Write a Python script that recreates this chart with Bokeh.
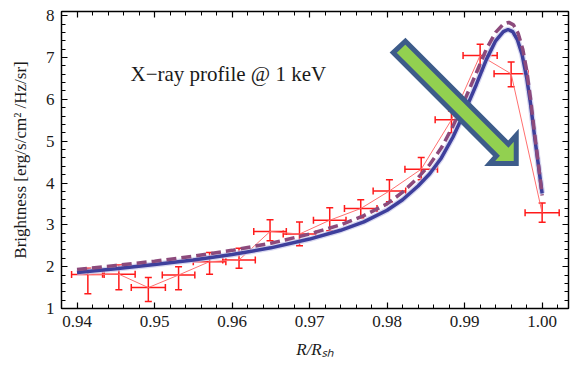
from bokeh.plotting import figure
from bokeh.models import (Range1d, SingleIntervalTicker, LinearAxis, ColumnDataSource,
                          Whisker, TeeHead, Label, NumeralTickFormatter, CustomJSTickFormatter)
from bokeh.embed import file_html
from bokeh.resources import INLINE

# ---- observed X-ray profile (points with error bars) ----
r_obs = [0.9414, 0.9454, 0.9492, 0.9531, 0.9571, 0.9609, 0.9649, 0.9687,
         0.9726, 0.9766, 0.9803, 0.9844, 0.9883, 0.9920, 0.9960, 1.0000]
b_obs = [1.81, 1.82, 1.50, 1.80, 2.12, 2.16, 2.84, 2.78,
         3.11, 3.39, 3.81, 4.33, 5.51, 7.05, 6.61, 3.29]
b_low = [1.35, 1.45, 1.17, 1.45, 1.82, 1.96, 2.62, 2.50,
         2.86, 3.17, 3.55, 4.08, 5.20, 6.68, 6.30, 3.06]
b_high = [1.96, 2.04, 1.74, 2.00, 2.34, 2.44, 3.12, 3.07,
          3.41, 3.60, 4.08, 4.61, 5.72, 7.32, 6.89, 3.52]
r_err = [0.0021, 0.0021, 0.0022, 0.0021, 0.0021, 0.0021, 0.0021, 0.0021,
         0.0021, 0.0021, 0.0021, 0.0021, 0.0021, 0.0022, 0.0022, 0.0022]

# ---- model curves ----
r_model = [0.9400, 0.9450, 0.9500, 0.9550, 0.9600, 0.9650, 0.9700, 0.9740, 0.9770,
           0.9800, 0.9820, 0.9840, 0.9855, 0.9870, 0.9885, 0.9900, 0.9915, 0.9928,
           0.9940, 0.9950, 0.9956, 0.9962, 0.9968, 0.9974, 0.9980, 0.9985, 0.9990,
           0.9995, 1.0000]
b_solid = [1.86, 1.95, 2.05, 2.16, 2.29, 2.45, 2.66, 2.87, 3.07,
           3.35, 3.60, 3.93, 4.22, 4.60, 5.10, 5.70, 6.35, 6.95,
           7.40, 7.62, 7.67, 7.62, 7.43, 7.08, 6.52, 5.90, 5.15,
           4.45, 3.75]
r_model_d = [0.9400, 0.9450, 0.9500, 0.9550, 0.9600, 0.9650, 0.9700, 0.9740, 0.9770,
             0.9800, 0.9820, 0.9840, 0.9855, 0.9870, 0.9885, 0.9900, 0.9915, 0.9928,
             0.9940, 0.9950, 0.9957, 0.9963, 0.9969, 0.9975, 0.9980, 0.9985, 0.9990,
             0.9995, 1.0000]
b_dashed = [1.93, 2.03, 2.13, 2.25, 2.39, 2.56, 2.78, 3.00, 3.22,
            3.50, 3.78, 4.13, 4.44, 4.84, 5.36, 5.98, 6.63, 7.20,
            7.60, 7.80, 7.84, 7.78, 7.58, 7.20, 6.70, 6.02, 5.22,
            4.48, 3.70]

# ---- decorative arrow (data coordinates) ----
arrow_x = [0.98236, 0.99564, 0.99666, 0.99666, 0.99324, 0.99411, 0.98079]
arrow_y = [7.390, 4.932, 5.142, 4.469, 4.469, 4.649, 7.116]

x_ticks_interval = 0.01
y_ticks_interval = 1

src = ColumnDataSource(data=dict(
    x=r_obs, y=b_obs, lo=b_low, hi=b_high,
    xlo=[a - e for a, e in zip(r_obs, r_err)],
    xhi=[a + e for a, e in zip(r_obs, r_err)],
))

SERIF = "Liberation Serif"
TXT = "#1a1a1a"

p = figure(width=577, height=368, output_backend="svg", toolbar_location=None,
           x_range=Range1d(0.938, 1.0034), y_range=Range1d(1, 8.1),
           min_border_left=61, min_border_right=9, min_border_top=11, min_border_bottom=60)
p.grid.visible = False
p.outline_line_color = "black"
p.outline_line_width = 1.2
p.background_fill_color = "white"
p.border_fill_color = "white"

def style_axis(ax, show_labels):
    ax.axis_line_color = "black"
    ax.axis_line_width = 1.3
    ax.major_tick_in = 6
    ax.major_tick_out = 0
    ax.minor_tick_in = 4
    ax.minor_tick_out = 0
    ax.major_tick_line_color = "black"
    ax.minor_tick_line_color = "black"
    ax.major_tick_line_width = 1.2
    ax.minor_tick_line_width = 1.0
    ax.major_label_text_font = SERIF
    ax.major_label_text_font_size = "17px"
    ax.major_label_text_color = TXT
    if not show_labels:
        ax.formatter = CustomJSTickFormatter(code="return ''")
        ax.major_label_standoff = 0

xt = lambda: SingleIntervalTicker(interval=x_ticks_interval, num_minor_ticks=5)
yt = lambda: SingleIntervalTicker(interval=y_ticks_interval, num_minor_ticks=5)

xa = p.xaxis[0]
xa.ticker = xt()
xa.formatter = NumeralTickFormatter(format="0.00")
style_axis(xa, True)
xa.major_label_standoff = 7
xa.axis_label = "R/R\u209b\u2095"
xa.axis_label_text_font = SERIF
xa.axis_label_text_font_size = "17px"
xa.axis_label_text_font_style = "italic"
xa.axis_label_text_color = TXT
xa.axis_label_standoff = 10

ya = p.yaxis[0]
ya.ticker = yt()
style_axis(ya, True)
ya.major_label_standoff = 7
ya.axis_label = "Brightness [erg/s/cm\u00b2 /Hz/sr]"
ya.axis_label_text_font = SERIF
ya.axis_label_text_font_size = "17px"
ya.axis_label_text_font_style = "normal"
ya.axis_label_text_color = TXT
ya.axis_label_standoff = 13

top = LinearAxis(ticker=xt())
style_axis(top, False)
p.add_layout(top, "above")
right = LinearAxis(ticker=yt())
style_axis(right, False)
p.add_layout(right, "right")

# thin line joining the data points
p.line(r_obs, b_obs, line_color="#ff7070", line_width=1)

# model curves
p.line(r_model, b_solid, line_color="#c8c8ea", line_width=6, line_alpha=0.7)
p.line(r_model, b_solid, line_color="#3e3f9c", line_width=3.5)
p.line(r_model_d, b_dashed, line_color="#8c4a7c", line_width=3.5, line_dash="10 5")

# error bars
p.add_layout(Whisker(source=src, base="x", lower="lo", upper="hi", dimension="height",
                     line_color="#ff1a1a", line_width=1.5,
                     lower_head=TeeHead(size=7, line_color="#ff1a1a", line_width=1.5),
                     upper_head=TeeHead(size=7, line_color="#ff1a1a", line_width=1.5)))
p.add_layout(Whisker(source=src, base="y", lower="xlo", upper="xhi", dimension="width",
                     line_color="#ff1a1a", line_width=1.5,
                     lower_head=TeeHead(size=7, line_color="#ff1a1a", line_width=1.5),
                     upper_head=TeeHead(size=7, line_color="#ff1a1a", line_width=1.5)))

# arrow
ar = p.patch(arrow_x, arrow_y, fill_color="#92d050", line_color="#3d5c8a",
             line_width=5, line_join="miter")
ar.level = "overlay"

# annotation text
p.add_layout(Label(x=0.9469, y=6.61, text="X\u2212ray profile @ 1 keV", text_font=SERIF,
                   text_font_size="21px", text_baseline="middle", text_color=TXT))

open("out.html", "w").write(file_html(p, INLINE))
